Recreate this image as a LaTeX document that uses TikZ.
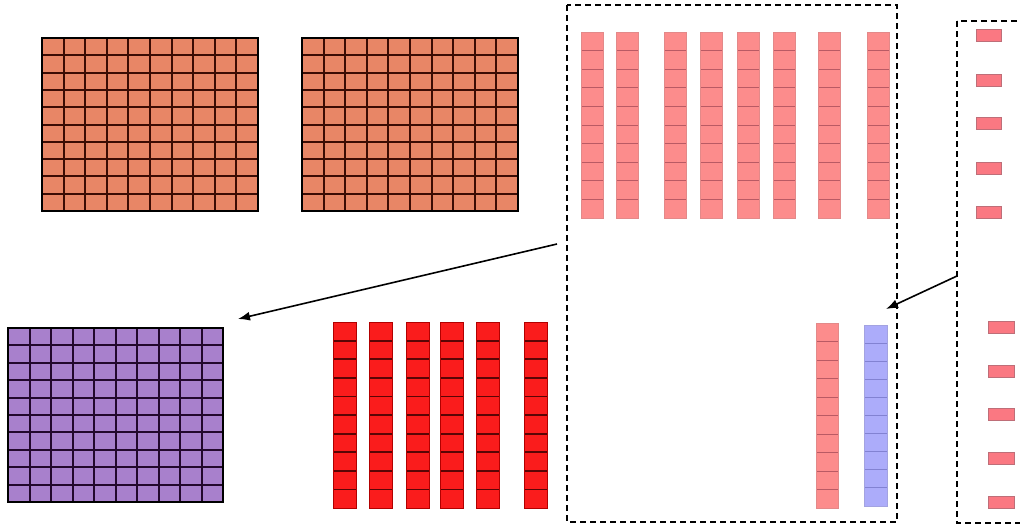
\documentclass[tikz,border=0pt]{standalone}
\usetikzlibrary{arrows.meta}
\definecolor{orangefill}{RGB}{232,134,102}
\definecolor{orangeline}{RGB}{60,12,4}
\definecolor{purplefill}{RGB}{168,128,204}
\definecolor{purpleline}{RGB}{35,8,45}
\definecolor{redfill}{RGB}{250,28,28}
\definecolor{redline}{RGB}{90,5,5}
\definecolor{pinkfill}{RGB}{252,140,140}
\definecolor{pinkline}{RGB}{185,90,100}
\definecolor{bluefill}{RGB}{172,172,250}
\definecolor{blueline}{RGB}{130,130,210}
\definecolor{smallfill}{RGB}{250,120,130}
\definecolor{smallline}{RGB}{190,110,120}
\newcommand{\myhlines}[5]{%
  \foreach \k in {1,...,9} \draw[#5] (#1,{#2+(#4-#2)*\k/10}) -- (#3,{#2+(#4-#2)*\k/10});}
\newcommand{\myvlines}[5]{%
  \foreach \k in {1,...,9} \draw[#5] ({#1+(#3-#1)*\k/10},#2) -- ({#1+(#3-#1)*\k/10},#4);}
\newcommand{\mygrid}[7]{% x0 y0 x1 y1 fill inner outer
  \fill[#5] (#1,#2) rectangle (#3,#4);
  \myhlines{#1}{#2}{#3}{#4}{#6}
  \myvlines{#1}{#2}{#3}{#4}{#6}
  \draw[#7] (#1,#2) rectangle (#3,#4);}
\newcommand{\mystrip}[7]{% x0 y0 x1 y1 fill inner outer
  \fill[#5] (#1,#2) rectangle (#3,#4);
  \myhlines{#1}{#2}{#3}{#4}{#6}
  \draw[#7] (#1,#2) rectangle (#3,#4);}
\tikzset{
  frame/.style={line width=1.3pt, dash pattern=on 6pt off 4pt},
  conn/.style={line width=1.6pt, -{Latex[length=12pt,width=9pt]}},
  smallrect/.style={fill=smallfill, draw=smallline, line width=0.9pt}
}
\begin{document}
\begin{tikzpicture}[x=1pt,y=-1pt]
\useasboundingbox (0,0) rectangle (1020,528);
\clip (0,0) rectangle (1020,528);
% orange grids
\mygrid{42}{38}{258}{211}{orangefill}{orangeline,line width=2pt}{black,line width=2.8pt}
\mygrid{302}{38}{518}{211}{orangefill}{orangeline,line width=2pt}{black,line width=2.8pt}
% purple grid
\mygrid{8}{328}{223}{502}{purplefill}{purpleline,line width=2pt}{black,line width=2.8pt}
% red strips
\foreach \x in {333,369,406,440,476,524}
  \mystrip{\x}{322}{\x+23}{508}{redfill}{redline,line width=1.8pt}{red!70!black,line width=0.7pt};
% dashed frames
\draw[frame] (567,5) rectangle (897,522);
\draw[frame] (957,21) rectangle (1040,523);
% pink strips top
\foreach \x in {581,616,664,700,737,773,818,867}
  \mystrip{\x}{32}{\x+22}{218}{pinkfill}{pinkline,line width=1pt}{pinkfill!80!gray,line width=0.6pt};
% bottom strips
\mystrip{816}{323}{838}{508}{pinkfill}{pinkline,line width=1pt}{pinkfill!80!gray,line width=0.6pt}
\mystrip{864}{325}{887}{506}{bluefill}{blueline,line width=1pt}{bluefill!80!gray,line width=0.6pt}
% small rectangles
\foreach \y in {35,80,123,168,212}
  \draw[smallrect] (976,\y-6) rectangle (1001,\y+6);
\foreach \y in {327,371,414,458,502}
  \draw[smallrect] (988,\y-6) rectangle (1014,\y+6);
% arrows
\coordinate (a1s) at (557,244);
\coordinate (a1e) at (238,319);
\coordinate (a2s) at (957,276);
\coordinate (a2e) at (886,309);
\draw[conn] (a1s) -- (a1e);
\draw[conn] (a2s) -- (a2e);
\end{tikzpicture}
\end{document}
